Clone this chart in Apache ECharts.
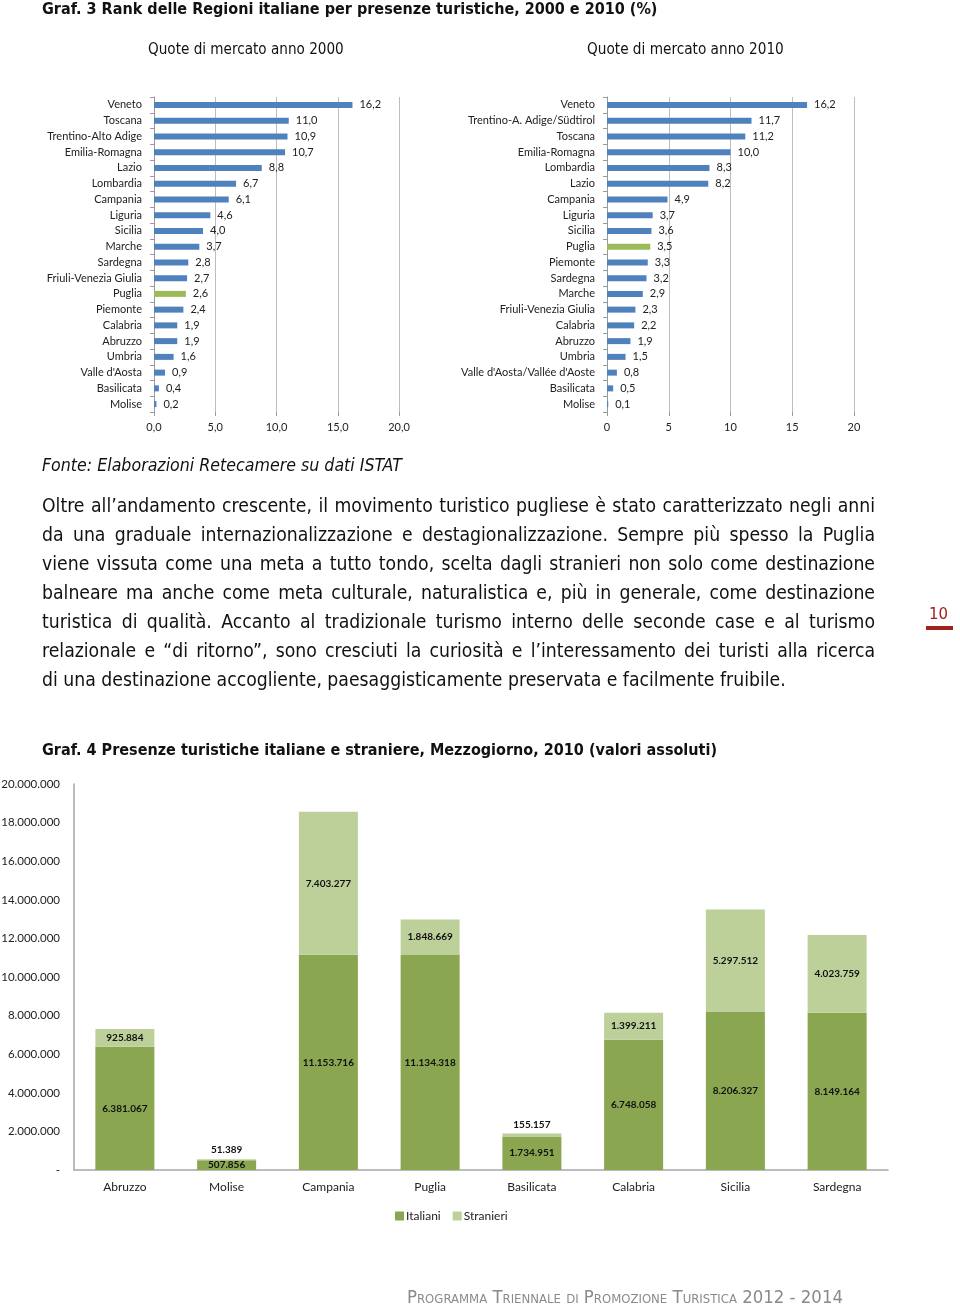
<!DOCTYPE html>
<html>
<head>
<meta charset="utf-8">
<script src="https://cdn.jsdelivr.net/npm/echarts@6/dist/echarts.min.js"></script>
<style>
html,body{margin:0;padding:0;background:#fff;}
#page{position:relative;width:960px;height:1304px;overflow:hidden;background:#fff;}
#chart{position:absolute;left:0;top:0;width:960px;height:1304px;}
.t{position:absolute;white-space:nowrap;line-height:1;transform:translateY(-50%);font-family:"DejaVu Sans Condensed","DejaVu Sans",sans-serif;color:#111;}
.pl{position:absolute;left:42px;width:833px;white-space:nowrap;line-height:1;transform:translateY(-50%);font-family:"DejaVu Sans Condensed","DejaVu Sans",sans-serif;color:#111;text-align:justify;text-align-last:justify;}
</style>
</head>
<body>
<div id="page">
<div id="chart"></div>
<div class="t" id="title3" data-x="42" data-y="9" data-w="616" style="font-weight:bold;font-size:17px;">Graf. 3 Rank delle Regioni italiane per presenze turistiche, 2000 e 2010 (%)</div>
<div class="t" id="sub1" data-x="148" data-y="50" data-w="196" style="font-size:15px;">Quote di mercato anno 2000</div>
<div class="t" id="sub2" data-x="587" data-y="50" data-w="197" style="font-size:15px;">Quote di mercato anno 2010</div>
<div class="t" id="fonte" data-x="42" data-y="466" data-w="360" style="font-style:italic;font-size:16px;">Fonte: Elaborazioni Retecamere su dati ISTAT</div>
<div id="para"></div>
<div class="t" id="title4" data-x="42" data-y="750" data-w="676" style="font-weight:bold;font-size:17px;">Graf. 4 Presenze turistiche italiane e straniere, Mezzogiorno, 2010 (valori assoluti)</div>
<div class="t" id="pagenum" data-x="929" data-y="614" data-w="19" style="font-size:16px;color:#a3201e;">10</div>
<div style="position:absolute;left:926px;top:626px;width:27px;height:4px;background:#a3201e;"></div>
<div class="t" id="footer" data-x="407" data-y="1297" data-w="436" style="font-size:17px;font-variant:small-caps;color:#8a8a8a;">Programma Triennale di Promozione Turistica 2012 - 2014</div>
</div>
<script>
// ---------------- DATA ----------------
const regions2000 = ["Veneto","Toscana","Trentino-Alto Adige","Emilia-Romagna","Lazio","Lombardia","Campania","Liguria","Sicilia","Marche","Sardegna","Friuli-Venezia Giulia","Puglia","Piemonte","Calabria","Abruzzo","Umbria","Valle d'Aosta","Basilicata","Molise"];
const share2000 = [16.2,11.0,10.9,10.7,8.8,6.7,6.1,4.6,4.0,3.7,2.8,2.7,2.6,2.4,1.9,1.9,1.6,0.9,0.4,0.2];
const regions2010 = ["Veneto","Trentino-A. Adige/Südtirol","Toscana","Emilia-Romagna","Lombardia","Lazio","Campania","Liguria","Sicilia","Puglia","Piemonte","Sardegna","Marche","Friuli-Venezia Giulia","Calabria","Abruzzo","Umbria","Valle d'Aosta/Vallée d'Aoste","Basilicata","Molise"];
const share2010 = [16.2,11.7,11.2,10.0,8.3,8.2,4.9,3.7,3.6,3.5,3.3,3.2,2.9,2.3,2.2,1.9,1.5,0.8,0.5,0.1];
const highlightRegion = "Puglia";

const mezzRegions = ["Abruzzo","Molise","Campania","Puglia","Basilicata","Calabria","Sicilia","Sardegna"];
const italiani = [6381067,507856,11153716,11134318,1734951,6748058,8206327,8149164];
const stranieri = [925884,51389,7403277,1848669,155157,1399211,5297512,4023759];
const seriesNames = ["Italiani","Stranieri"];

const paragraphLines = [
 "Oltre all’andamento crescente, il movimento turistico pugliese è stato caratterizzato negli anni",
 "da una graduale internazionalizzazione e destagionalizzazione. Sempre più spesso la Puglia",
 "viene vissuta come una meta a tutto tondo, scelta dagli stranieri non solo come destinazione",
 "balneare ma anche come meta culturale, naturalistica e, più in generale, come destinazione",
 "turistica di qualità. Accanto al tradizionale turismo interno delle seconde case e al turismo",
 "relazionale e “di ritorno”, sono cresciuti la curiosità e l’interessamento dei turisti alla ricerca",
 "di una destinazione accogliente, paesaggisticamente preservata e facilmente fruibile."
];

// ---------------- TEXT LAYOUT ----------------
function fitText(el){
  const x = +el.dataset.x, y = +el.dataset.y, w = +el.dataset.w;
  el.style.left = x + 'px'; el.style.top = y + 'px';
  const fs = parseFloat(getComputedStyle(el).fontSize);
  const cw = el.getBoundingClientRect().width;
  el.style.fontSize = (fs * w / cw) + 'px';
}
document.querySelectorAll('.t').forEach(fitText);

(function(){
  const para = document.getElementById('para');
  const probe = document.createElement('span');
  probe.className = 't';
  probe.style.fontSize = '17px';
  probe.textContent = paragraphLines[paragraphLines.length-1];
  document.getElementById('page').appendChild(probe);
  const fs = 17 * 744 / probe.getBoundingClientRect().width;
  probe.remove();
  paragraphLines.forEach((line, i) => {
    const d = document.createElement('div');
    d.className = 'pl';
    d.style.fontSize = fs + 'px';
    d.style.top = (506 + i * 29) + 'px';
    if (i === paragraphLines.length - 1) { d.style.textAlign = 'left'; d.style.textAlignLast = 'left'; }
    d.textContent = line;
    para.appendChild(d);
  });
})();

// ---------------- CHARTS ----------------
const BLUE = '#4f81bd', GREEN = '#9bbb59';
const DARKG = '#8ba650', LIGHTG = '#bdd09a';
const labFont = 'Lato, "Open Sans", sans-serif';
const comma1 = v => v.toFixed(1).replace('.', ',');
const dots = v => v === 0 ? '-' : String(v).replace(/\B(?=(\d{3})+(?!\d))/g, '.');

function rankAxes(gridIndex, cats, xFmt){
  return {
    x: {
      type:'value', gridIndex, min:0, max:20, interval:5,
      axisLine:{show:false},
      axisTick:{show:true, length:4, lineStyle:{color:'#999'}},
      splitLine:{show:true, lineStyle:{color:'#bdbdbd', width:1}},
      axisLabel:{formatter:xFmt, fontFamily:labFont, fontSize:11, color:'#222', margin:10}
    },
    y: {
      type:'category', gridIndex, data:cats, inverse:true,
      axisLine:{show:true, lineStyle:{color:'#999'}},
      axisTick:{show:true, length:4, lineStyle:{color:'#999'}},
      axisLabel:{fontFamily:labFont, fontSize:11, color:'#222', margin:12}
    }
  };
}
const a1 = rankAxes(0, regions2000, comma1);
const a2 = rankAxes(1, regions2010, v => String(v));

function rankSeries(idx, cats, vals){
  return {
    type:'bar', xAxisIndex:idx, yAxisIndex:idx, barWidth:6,
    data: vals.map((v,i) => ({value:v, itemStyle:{color: cats[i] === highlightRegion ? GREEN : BLUE}})),
    label:{show:true, position:'right', distance:7, formatter:p => comma1(p.value),
           fontFamily:labFont, fontSize:11, color:'#222'},
    silent:true, animation:false
  };
}

const stackLabel = {show:true, position:'inside', fontFamily:labFont, fontSize:10, fontWeight:'bold', color:'#111',
                    formatter:p => dots(p.value)};

const option = {
  animation:false,
  grid:[
    {left:154, top:97, width:245, height:315, outerBoundsMode:'none', containLabel:false},
    {left:607, top:97, width:247, height:315, outerBoundsMode:'none', containLabel:false},
    {left:74, top:784, width:814, height:386, outerBoundsMode:'none', containLabel:false}
  ],
  xAxis:[a1.x, a2.x, {
    type:'category', gridIndex:2, data:mezzRegions,
    axisLine:{show:true, lineStyle:{color:'#a6a6a6', width:1.5}},
    axisTick:{show:false},
    axisLabel:{fontFamily:labFont, fontSize:12, color:'#222', margin:11}
  }],
  yAxis:[a1.y, a2.y, {
    type:'value', gridIndex:2, min:0, max:20000000, interval:2000000,
    axisLine:{show:true, lineStyle:{color:'#a6a6a6', width:1.5}},
    axisTick:{show:false},
    splitLine:{show:false},
    axisLabel:{formatter:dots, fontFamily:labFont, fontSize:11.5, color:'#222', margin:14}
  }],
  legend:{
    left:390, top:1205, itemWidth:9, itemHeight:9, itemGap:12, icon:'rect',
    data:seriesNames,
    textStyle:{fontFamily:labFont, fontSize:12, color:'#222', padding:[0,0,0,-3]}
  },
  series:[
    rankSeries(0, regions2000, share2000),
    rankSeries(1, regions2010, share2010),
    {
      name:seriesNames[0], type:'bar', stack:'tot', xAxisIndex:2, yAxisIndex:2, barWidth:59,
      itemStyle:{color:DARKG}, data:italiani, label:stackLabel
    },
    {
      name:seriesNames[1], type:'bar', stack:'tot', xAxisIndex:2, yAxisIndex:2, barWidth:59,
      itemStyle:{color:LIGHTG},
      data: stranieri.map(v => v < 400000 ? {value:v, label:{position:'top', distance:4}} : v),
      label:stackLabel
    }
  ]
};
const chart = echarts.init(document.getElementById('chart'), null, {renderer:'canvas'});
chart.setOption(option);
</script>
</body>
</html>
